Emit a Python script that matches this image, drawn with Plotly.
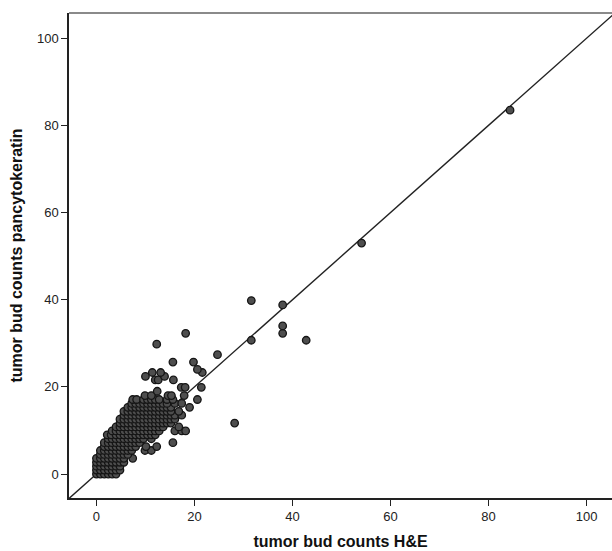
import plotly.graph_objects as go

# ---- data (H&E count, pancytokeratin count), row by row ----
he_counts = [
    0, 0.8, 1.6, 2.4, 3.2, 4.0,
    0, 0.8, 1.6, 2.4, 3.2, 4.0, 4.8,
    0, 0.8, 1.6, 2.4, 3.2, 4.0, 4.8,
    0, 0.8, 1.6, 2.4, 3.2, 4.0, 4.8, 5.6,
    0, 0.8, 1.6, 2.4, 3.2, 4.0, 4.8, 5.6, 7.4,
    0.8, 1.6, 2.4, 3.2, 4.0, 4.8, 5.6, 6.4,
    0.8, 1.6, 2.4, 3.2, 4.0, 4.8, 5.6, 6.4, 7.2, 9.9, 11.2,
    1.6, 2.4, 3.2, 4.0, 4.8, 5.6, 6.4, 7.2, 8.0, 10.1, 12.3,
    1.6, 2.4, 3.2, 4.0, 4.8, 5.6, 6.4, 7.2, 8.0, 8.8, 15.6,
    2.4, 3.2, 4.0, 4.8, 5.6, 6.4, 7.2, 8.0, 8.8, 9.6, 11.2,
    2.2, 3.0, 4.0, 4.8, 5.6, 6.4, 7.2, 8.0, 8.8, 9.6, 10.4, 11.2, 12.0,
    3.2, 4.0, 4.8, 5.6, 6.4, 7.2, 8.0, 8.8, 9.6, 10.4, 11.2, 12.0, 12.8, 16.0, 17.4, 18.2,
    4.0, 4.8, 5.6, 6.4, 7.2, 8.0, 8.8, 9.6, 10.4, 11.2, 12.0, 12.8, 13.6, 16.8,
    4.8, 5.6, 6.4, 7.2, 8.0, 8.8, 9.6, 10.4, 11.2, 12.0, 12.8, 13.6, 14.4, 15.2, 28.2,
    4.8, 5.6, 6.4, 7.2, 8.0, 8.8, 9.6, 10.4, 11.2, 12.0, 12.8, 13.6, 14.4, 15.2, 16.0,
    5.6, 6.4, 7.2, 8.0, 8.8, 9.6, 10.4, 11.2, 12.0, 12.8, 13.6, 14.4, 15.2, 16.0, 17.4,
    5.6, 6.4, 7.2, 8.0, 8.8, 9.6, 10.4, 11.2, 12.0, 12.8, 13.6, 14.4, 15.2, 16.8,
    6.4, 7.2, 8.0, 8.8, 9.6, 10.4, 11.2, 12.0, 12.8, 13.6, 14.4, 15.2, 19.0,
    7.2, 8.0, 8.8, 9.6, 10.4, 11.2, 12.0, 12.8, 13.6, 14.4, 16.0, 17.4,
    7.4, 8.2, 9.6, 10.4, 11.2, 12.0, 12.8, 14.4, 15.6, 20.6,
    9.9, 11.2, 14.6, 15.3, 17.9,
    12.4,
    17.3, 18.1, 21.4,
    12.0, 12.6, 15.7,
    10.0, 13.9,
    11.4, 13.1, 21.6,
    20.6,
    15.6, 19.8,
    24.7,
    12.3,
    18.2,
    31.6, 42.8,
    38.0,
    38.0,
    38.0,
    31.6,
    54.1,
    84.4,
]

pck_counts = (
    [0.0] * 6 + [0.9] * 7 + [1.8] * 7 + [2.7] * 8 + [3.6] * 9 + [4.5] * 8
    + [5.4] * 11 + [6.3] * 11 + [7.2] * 11 + [8.1] * 11 + [9.0] * 13
    + [9.9] * 16 + [10.8] * 14 + [11.7] * 15 + [12.6] * 15 + [13.5] * 15
    + [14.4] * 14 + [15.3] * 13 + [16.2] * 12 + [17.1] * 10 + [18.0] * 5
    + [19.0] + [19.9] * 3 + [21.6] * 3 + [22.4] * 2 + [23.3] * 3 + [24.0]
    + [25.7] * 2 + [27.4] + [29.8] + [32.3] + [30.7] * 2 + [32.3] + [34.0]
    + [38.8] + [39.8] + [53.0] + [83.5]
)

identity_line = [-10, 110]          # reference line y = x
x_ticks = [0, 20, 40, 60, 80, 100]
y_ticks = [0, 20, 40, 60, 80, 100]

fig = go.Figure()
fig.add_trace(go.Scatter(
    x=identity_line, y=identity_line, mode="lines",
    line=dict(color="#222222", width=1.4), hoverinfo="skip", showlegend=False,
))
fig.add_trace(go.Scatter(
    x=he_counts, y=pck_counts, mode="markers",
    marker=dict(size=7.5, color="#4e4e4e", line=dict(color="#151515", width=1.3)),
    showlegend=False,
))

axis_common = dict(
    showgrid=False, zeroline=False, showline=True, linecolor="#222222", linewidth=1.5,
    ticks="outside", ticklen=6, tickwidth=1.3, tickcolor="#222222",
    tickfont=dict(family="Liberation Sans, Arial", size=13, color="#222222"),
)

fig.update_layout(
    width=612, height=551,
    margin=dict(l=69, r=0, t=13, b=53),
    paper_bgcolor="white", plot_bgcolor="white",
    xaxis=dict(range=[-5.6, 105.2], tickvals=x_ticks, **axis_common,
               title=dict(text="<b>tumor bud counts H&E</b>", standoff=12,
                          font=dict(family="Liberation Sans, Arial", size=16, color="#111111"))),
    yaxis=dict(range=[-5.5, 105.8], tickvals=y_ticks, **axis_common,
               title=dict(text="<b>tumor bud counts pancytokeratin</b>", standoff=10,
                          font=dict(family="Liberation Sans, Arial", size=16, color="#111111"))),
    shapes=[dict(type="line", xref="paper", yref="paper", x0=0, x1=1, y0=1, y1=1,
                 line=dict(color="#8a8a8a", width=2))],
)

fig.write_html("out.html", config={"displayModeBar": False},
               post_script="document.body.style.margin='0';document.body.style.overflow='hidden';")
